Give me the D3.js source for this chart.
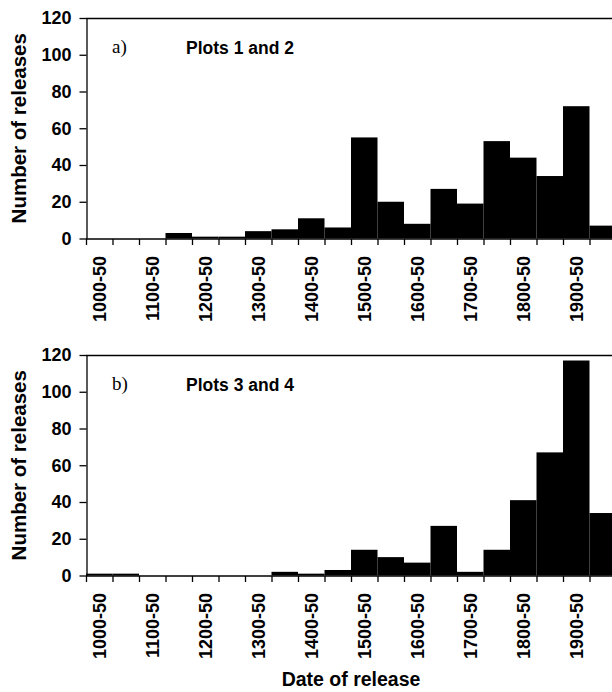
<!DOCTYPE html>
<html>
<head>
<meta charset="utf-8">
<script src="https://cdn.jsdelivr.net/npm/d3@7"></script>
<style>
  body { margin: 0; background: #fff; }
  svg { display: block; font-family: 'Liberation Sans', Arial, sans-serif; }
</style>
</head>
<body>
<div id="chart"></div>
<script>
// 50-year bins, 1000 to 2000
const binStarts = [1000, 1050, 1100, 1150, 1200, 1250, 1300, 1350, 1400, 1450,
  1500, 1550, 1600, 1650, 1700, 1750, 1800, 1850, 1900, 1950];
const tickLabels = ['1000-50', '1100-50', '1200-50', '1300-50', '1400-50',
  '1500-50', '1600-50', '1700-50', '1800-50', '1900-50'];
const yTicks = [0, 20, 40, 60, 80, 100, 120];

const plotsA = [0, 0, 0, 3, 1, 1, 4, 5, 11, 6, 55, 20, 8, 27, 19, 53, 44, 34, 72, 7];
const plotsB = [1, 1, 0, 0, 0, 0, 0, 2, 1, 3, 14, 10, 7, 27, 2, 14, 41, 67, 117, 34];

const panels = [
  { letter: 'a)', title: 'Plots 1 and 2', values: plotsA, top: 18 },
  { letter: 'b)', title: 'Plots 3 and 4', values: plotsB, top: 355 },
];

const width = 612;
const height = 692;
const left = 86;
const right = 616; // plot runs past the page edge, as in the original
const plotH = 220.5;

const svg = d3.select('#chart')
  .append('svg')
  .attr('width', width)
  .attr('height', height);

const x = d3.scaleBand()
  .domain(binStarts)
  .range([left, right])
  .padding(0);

const labelled = (start) => (start - 1000) % 100 === 0;

panels.forEach((p) => {
  const bottom = p.top + plotH;
  const y = d3.scaleLinear().domain([0, 120]).range([bottom, p.top]);
  const g = svg.append('g');

  // bars
  g.selectAll('rect')
    .data(binStarts.map((b, i) => [b, p.values[i]]))
    .join('rect')
    .attr('x', (d) => x(d[0]))
    .attr('width', x.bandwidth())
    .attr('y', (d) => y(d[1]))
    .attr('height', (d) => y(0) - y(d[1]))
    .attr('fill', '#000');

  // top frame line
  g.append('line')
    .attr('x1', left).attr('x2', right)
    .attr('y1', p.top + 0.5).attr('y2', p.top + 0.5)
    .attr('stroke', '#000').attr('stroke-width', 1.3);

  // y axis
  const yAxis = g.append('g')
    .attr('transform', `translate(${left + 0.5},0)`)
    .call(d3.axisLeft(y).tickValues(yTicks).tickSize(7).tickPadding(8).tickSizeOuter(0));
  yAxis.select('.domain').attr('stroke-width', 1.3);
  yAxis.selectAll('line').attr('stroke-width', 1.3);
  yAxis.selectAll('text')
    .attr('font-size', 18)
    .attr('font-weight', 'bold')
    .attr('font-family', "'Liberation Sans', Arial, sans-serif");

  // x axis: ticks at bin edges, labels every other bin
  const edges = binStarts.map((b) => x(b)).concat([right]);
  const xg = g.append('g').attr('transform', `translate(0,${bottom + 0.5})`);
  xg.append('line')
    .attr('x1', left).attr('x2', right)
    .attr('stroke', '#000').attr('stroke-width', 1.3);
  xg.selectAll('line.tick')
    .data(edges)
    .join('line')
    .attr('class', 'tick')
    .attr('x1', (d) => d + 0.5).attr('x2', (d) => d + 0.5)
    .attr('y1', 0).attr('y2', 6)
    .attr('stroke', '#000').attr('stroke-width', 1.3);
  xg.selectAll('text')
    .data(binStarts.filter(labelled))
    .join('text')
    .attr('transform', (d) => `translate(${x(d) + x.bandwidth() / 2 + 6.5},${17}) rotate(-90)`)
    .attr('text-anchor', 'end')
    .attr('font-size', 18)
    .attr('font-weight', 'bold')
    .text((d, i) => tickLabels[i]);

  // panel letter and title
  g.append('text')
    .attr('x', 112)
    .attr('y', p.top + 35)
    .attr('font-family', "'Liberation Serif', 'Times New Roman', serif")
    .attr('font-size', 19)
    .text(p.letter);
  g.append('text')
    .attr('x', 186)
    .attr('y', p.top + 36)
    .attr('font-size', 17.5)
    .attr('font-weight', 'bold')
    .text(p.title);

  // y axis title
  svg.append('text')
    .attr('transform', `translate(26,${(p.top + bottom) / 2}) rotate(-90)`)
    .attr('text-anchor', 'middle')
    .attr('font-size', 20.5)
    .attr('font-weight', 'bold')
    .text('Number of releases');
});

svg.append('text')
  .attr('x', (left + right) / 2)
  .attr('y', 686)
  .attr('text-anchor', 'middle')
  .attr('font-size', 19.5)
  .attr('font-weight', 'bold')
  .text('Date of release');
</script>
</body>
</html>
